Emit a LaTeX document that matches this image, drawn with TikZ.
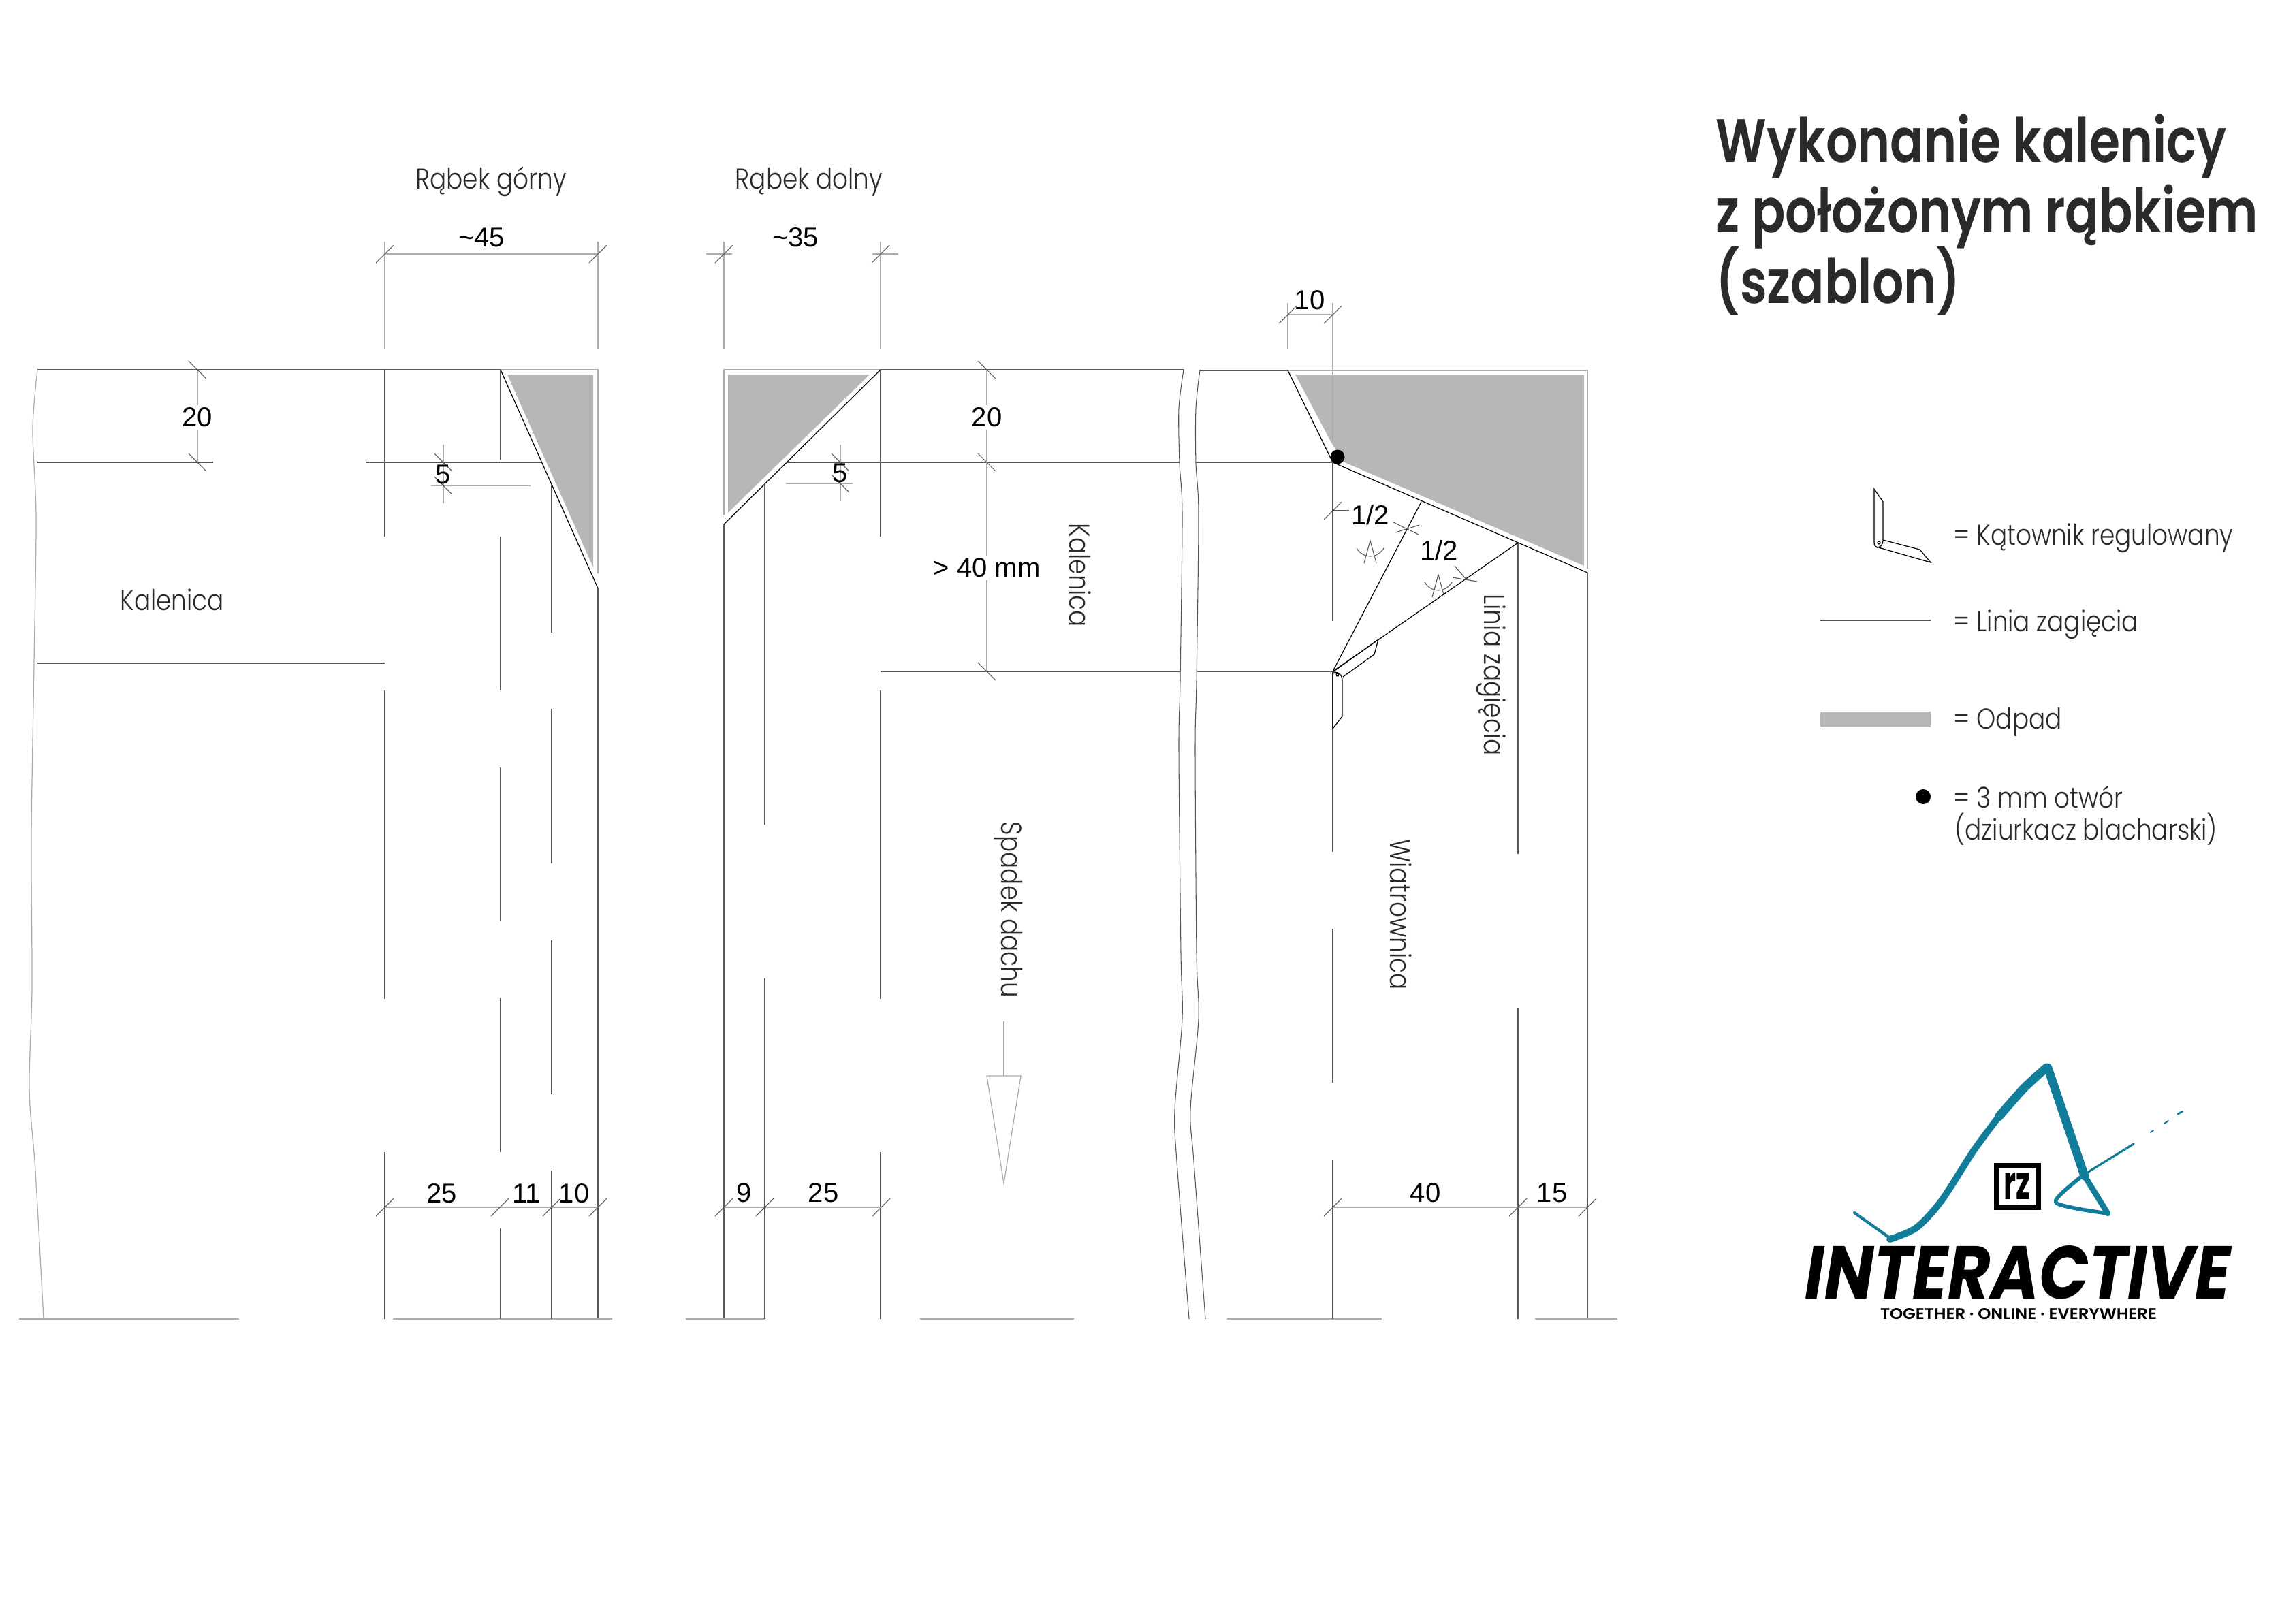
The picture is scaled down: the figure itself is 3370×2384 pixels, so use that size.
\documentclass[tikz,border=0pt]{standalone}
\usepackage{fontspec}
\setmainfont{Liberation Sans}
\newfontfamily\futura[FakeStretch=0.85]{Poppins Light}
\newfontfamily\futuram[FakeStretch=0.81]{Poppins SemiBold}
\newfontfamily\logof{Poppins}
\definecolor{tekst}{HTML}{2B2A29}
\definecolor{odpad}{HTML}{B7B7B7}
\definecolor{jasna}{HTML}{ABABAB}
\definecolor{ciemna}{HTML}{555555}
\definecolor{morski}{HTML}{127C9B}
\tikzset{
  opis/.style={font=\futura\fontsize{12}{14}\selectfont,text=tekst,inner sep=0pt},
  wymiar/.style={font=\fontsize{11.4}{13}\selectfont,text=black,inner sep=1pt},
  tytul/.style={font=\futuram\fontsize{25.6}{30}\selectfont,text=tekst,inner sep=0pt,anchor=base west},
  legenda/.style={opis,anchor=west},
  cienka/.style={line width=0.3pt,color=ciemna},
  zagiecie/.style={line width=0.35pt,color=ciemna},
  pomocnicza/.style={line width=0.35pt,color=jasna},
  ciecie/.style={line width=0.35pt,color=black},
  pedzel/.style={color=morski,line cap=round,line join=round}
}
\newcommand{\ukosP}[2]{\draw[cienka] (#1-13,#2+13) -- (#1+13,#2-13);}
\newcommand{\ukosL}[2]{\draw[cienka] (#1-13,#2-13) -- (#1+13,#2+13);}
\begin{document}
\begin{tikzpicture}[x=0.1mm,y=-0.1mm]
   \path[fill=white,use as bounding box] (0,0) rectangle (3370,2384);

   % Rabek gorny
   \fill[odpad] (745,550) -- (871,550) -- (871,833) -- cycle;
   \draw[pomocnicza] (735,543) -- (878,543) -- (878,842);
   \draw[pomocnicza] plot[smooth] coordinates {(55,543) (48,630) (53,760) (50,974) (46,1230) (47,1450) (43,1600) (52,1720) (64,1937)};
   \draw[ciecie] (55,543) -- (735,543) -- (878,864) -- (878,1937);
   \draw[pomocnicza] (28,1937) -- (351,1937);
   \draw[pomocnicza] (577,1937) -- (899,1937);

   \draw[zagiecie] (55,679) -- (313,679);
   \draw[zagiecie] (538,679) -- (795,679);
   \draw[zagiecie] (55,974) -- (565,974);

   \draw[zagiecie] (565,543) -- (565,788);
   \draw[zagiecie] (565,1014) -- (565,1467);
   \draw[zagiecie] (565,1692) -- (565,1937);
   \draw[zagiecie] (735,543) -- (735,675);
   \draw[zagiecie] (735,788) -- (735,1014);
   \draw[zagiecie] (735,1127) -- (735,1353);
   \draw[zagiecie] (735,1466) -- (735,1692);
   \draw[zagiecie] (735,1804) -- (735,1937);
   \draw[zagiecie] (810,713) -- (810,929);
   \draw[zagiecie] (810,1041) -- (810,1268);
   \draw[zagiecie] (810,1381) -- (810,1607);
   \draw[zagiecie] (810,1719) -- (810,1937);

   \draw[pomocnicza] (565,355) -- (565,512);
   \draw[pomocnicza] (878,355) -- (878,512);
   \draw[pomocnicza] (565,373) -- (878,373);
   \ukosP{565}{373} \ukosP{878}{373}
   \node (wym45) at (707,349) [wymiar] {\textasciitilde 45};
   \node (rabekG) at (721,267) [opis] {Rąbek górny};

   \draw[pomocnicza] (290,543) -- (290,679);
   \ukosL{290}{543} \ukosL{290}{679}
   \node (wym20a) at (290,613) [wymiar,fill=white] {20};

   \draw[pomocnicza] (651,653) -- (651,739);
   \draw[pomocnicza] (633,713) -- (779,713);
   \ukosL{651}{679} \ukosL{651}{713}
   \node (wym5a) at (651,697) [wymiar,inner sep=0pt] {5};
   \node (kalenicaA) at (253,881) [opis] {Kalenica};

   \draw[pomocnicza] (565,1773) -- (878,1773);
   \ukosP{565}{1773} \ukosP{734}{1773} \ukosP{810}{1773} \ukosP{878}{1773}
   \node (wym25a) at (649,1753) [wymiar] {25};
   \node (wym11) at (773,1753) [wymiar] {11};
   \node (wym10a) at (843,1753) [wymiar] {10};

   % Rabek dolny
   \fill[odpad] (1069,550) -- (1277,550) -- (1069,753) -- cycle;
   \draw[pomocnicza] (1063,756) -- (1063,543) -- (1293,543);
   \draw[ciecie] (1063,1937) -- (1063,770) -- (1293,543) -- (1738,543);
   \draw[pomocnicza] (1007,1937) -- (1123,1937);
   \draw[pomocnicza] (1351,1937) -- (1577,1937);

   \draw[zagiecie] (1154,679) -- (1732,679);
   \draw[zagiecie] (1293,986) -- (1733,986);
   \draw[zagiecie] (1123,710) -- (1123,1211);
   \draw[zagiecie] (1123,1437) -- (1123,1937);
   \draw[zagiecie] (1293,543) -- (1293,788);
   \draw[zagiecie] (1293,1014) -- (1293,1467);
   \draw[zagiecie] (1293,1692) -- (1293,1937);

   \draw[pomocnicza] (1063,355) -- (1063,512);
   \draw[pomocnicza] (1293,355) -- (1293,512);
   \draw[pomocnicza] (1037,373) -- (1075,373);
   \draw[pomocnicza] (1281,373) -- (1319,373);
   \ukosP{1063}{373} \ukosP{1293}{373}
   \node (wym35) at (1168,349) [wymiar] {\textasciitilde 35};
   \node (rabekD) at (1188,267) [opis] {Rąbek dolny};

   \draw[pomocnicza] (1234,653) -- (1234,736);
   \draw[pomocnicza] (1154,710) -- (1252,710);
   \ukosL{1234}{679} \ukosL{1234}{710}
   \node (wym5b) at (1234,695) [wymiar,inner sep=0pt] {5};

   \draw[pomocnicza] (1449,543) -- (1449,986);
   \ukosL{1449}{543} \ukosL{1449}{679} \ukosL{1449}{986}
   \node (wym20b) at (1449,613) [wymiar,fill=white] {20};
   \node (wym40) at (1449,834) [wymiar,fill=white] {> 40 mm};
   \node (kalenicaB) at (1586,845) [opis,rotate=-90] {Kalenica};
   \node (spadek) at (1481,1336) [opis,rotate=-90] {Spadek dachu};
   \draw[pomocnicza] (1474,1500) -- (1474,1580);
   \draw[pomocnicza] (1449,1580) -- (1499,1580) -- (1474,1738) -- cycle;

   \draw[pomocnicza] (1063,1773) -- (1294,1773);
   \ukosP{1063}{1773} \ukosP{1123}{1773} \ukosP{1294}{1773}
   \node (wym9) at (1093,1752) [wymiar] {9};
   \node (wym25b) at (1209,1752) [wymiar] {25};

   % Przerwanie arkusza
   \draw[cienka] plot[smooth] coordinates {(1738,543) (1731,600) (1732,680) (1736,757) (1733,1000) (1731,1100) (1734,1400) (1736,1496) (1725,1630) (1728,1706) (1746,1937)};
   \draw[cienka] plot[smooth] coordinates {(1762,543) (1756,600) (1756,680) (1760,757) (1757,1000) (1755,1100) (1757,1400) (1760,1496) (1748,1630) (1753,1706) (1770,1937)};

   % Wiatrownica
   \fill[odpad] (1902,550) -- (2326,550) -- (2326,831) -- (1972,678) -- (1955,650) -- cycle;
   \draw[pomocnicza] (1891,544) -- (2331,544) -- (2331,835);
   \draw[ciecie] (1762,544) -- (1891,544) -- (1957,679) -- (2331,841) -- (2331,1937);
   \draw[pomocnicza] (1802,1937) -- (2029,1937);
   \draw[pomocnicza] (2254,1937) -- (2375,1937);

   \draw[zagiecie] (1756,679) -- (1957,679);
   \draw[zagiecie] (1757,986) -- (1957,986);
   \draw[zagiecie] (1957,679) -- (1957,912);
   \draw[zagiecie] (1957,986) -- (1957,1251);
   \draw[zagiecie] (1957,1364) -- (1957,1590);
   \draw[zagiecie] (1957,1704) -- (1957,1937);
   \draw[zagiecie] (2229,797) -- (2229,1254);
   \draw[zagiecie] (2229,1480) -- (2229,1937);
   \draw[ciecie] (1957,986) -- (2087,737);
   \draw[ciecie] (1957,986) -- (2229,797);

   \draw[pomocnicza] (1891,445) -- (1891,512);
   \draw[pomocnicza] (1957,445) -- (1957,648);
   \draw[pomocnicza] (1891,462) -- (1957,462);
   \ukosP{1891}{462} \ukosP{1957}{462}
   \node (wym10b) at (1923,441) [wymiar] {10};

   \node (dziura) at (1964,671) [circle,fill=black,inner sep=0pt,minimum size=2.1mm] {};

   % kreski 1/2
   \ukosP{1957}{750}
   \draw[cienka] (1957,750) -- (1981,750);
   \draw[cienka] (2049,782) -- (2084,771);
   \draw[cienka] (2046,767) -- (2083,785);
   \draw[cienka] (2136,831) -- (2153,851);
   \draw[cienka] (2133,848) -- (2169,854);
   \node (polowa1) at (2012,756) [wymiar,inner sep=0pt] {1/2};
   \node (polowa2) at (2113,808) [wymiar,inner sep=0pt] {1/2};
   \draw[cienka] (2003,827) -- (2012,794) -- (2021,827);
   \draw[cienka] (1992,805) .. controls (2002,821) and (2022,821) .. (2032,805);
   \draw[cienka] (2103,877) -- (2112,844) -- (2121,877);
   \draw[cienka] (2092,855) .. controls (2102,871) and (2122,871) .. (2132,855);

   % katownik na arkuszu
   \draw[ciecie] (1957,987) -- (2024,939) -- (2018,961) -- (1972,994);
   \draw[ciecie] (1957,1070) -- (1971,1052) -- (1971,998) .. controls (1971,992) and (1966,987) .. (1960,987) -- (1957,990) -- cycle;
   \draw[ciecie] (1964,991) circle (2);

   \node (linia) at (2190,991) [opis,rotate=-90] {Linia zagięcia};
   \node (wiatrownica) at (2057,1343) [opis,rotate=-90] {Wiatrownica};

   \draw[pomocnicza] (1957,1773) -- (2331,1773);
   \ukosP{1957}{1773} \ukosP{2229}{1773} \ukosP{2331}{1773}
   \node (wym40b) at (2093,1752) [wymiar] {40};
   \node (wym15) at (2279,1752) [wymiar] {15};

   % Tytul
   \node (tytul1) at (2519,238) [tytul] {Wykonanie kalenicy};
   \node (tytul2) at (2519,341) [tytul] {z położonym rąbkiem};
   \node (tytul3) at (2519,445) [tytul] {(szablon)};

   % Legenda
   \draw[ciecie] (2752,718) -- (2765,737) -- (2765,793) .. controls (2765,801) and (2760,804) .. (2756,804) .. controls (2753,803) and (2752,800) .. (2752,796) -- cycle;
   \draw[ciecie] (2765,793) -- (2819,807) -- (2835,826) -- (2755,803);
   \draw[ciecie] (2759,797) circle (2);
   \node (legKatownik) at (2868,790) [legenda] {= Kątownik regulowany};
   \draw[zagiecie] (2673,911) -- (2835,911);
   \node (legLinia) at (2868,917) [legenda] {= Linia zagięcia};
   \fill[odpad] (2673,1045) rectangle (2835,1068);
   \node (legOdpad) at (2868,1060) [legenda] {= Odpad};
   \node (legDziura) at (2824,1170) [circle,fill=black,inner sep=0pt,minimum size=2.2mm] {};
   \node (legOtwor) at (2868,1170) [legenda] {= 3 mm otwór};
   \node (legDziurkacz) at (2870,1218) [legenda] {(dziurkacz blacharski)};

   % Logo
   \draw[pedzel,line width=1.2pt] (2723,1781) -- (2775,1818);
   \draw[pedzel,line width=2.8pt] plot[smooth] coordinates {(2775,1820) (2814,1803) (2851,1763) (2898,1690) (2935,1640)};
   \draw[pedzel,line width=3.6pt] plot[smooth] coordinates {(2935,1640) (2972,1598) (3005,1568)};
   \draw[pedzel,line width=3.6pt] (3007,1568) -- (3061,1727);
   \draw[pedzel,line width=2.4pt] (3061,1727) -- (3095,1782);
   \draw[pedzel,line width=1.6pt] plot[smooth] coordinates {(3095,1782) (3050,1775) (3019,1766) (3030,1750) (3060,1725)};
   \draw[pedzel,line width=0.9pt] (3060,1725) -- (3133,1680);
   \draw[pedzel,line width=0.6pt] (3158,1663) -- (3162,1660);
   \draw[pedzel,line width=0.6pt] (3178,1650) -- (3184,1646);
   \draw[pedzel,line width=0.8pt] (3198,1636) -- (3205,1632);
   \fill[black] (2928,1708) rectangle (2997,1777);
   \fill[white] (2935,1715) rectangle (2990,1770);
   \node (rz) at (2962,1742) [inner sep=0pt] {\resizebox{3.9mm}{3.9mm}{\logof\bfseries rz}};
   \node (interactive) at (2963,1869) [inner sep=0pt] {\resizebox{62.4mm}{7.8mm}{\logof\bfseries\itshape INTERACTIVE}};
   \node (motto) at (2964,1930) [inner sep=0pt] {\resizebox{40.6mm}{1.6mm}{\futuram TOGETHER · ONLINE · EVERYWHERE}};
\end{tikzpicture}
\end{document}
